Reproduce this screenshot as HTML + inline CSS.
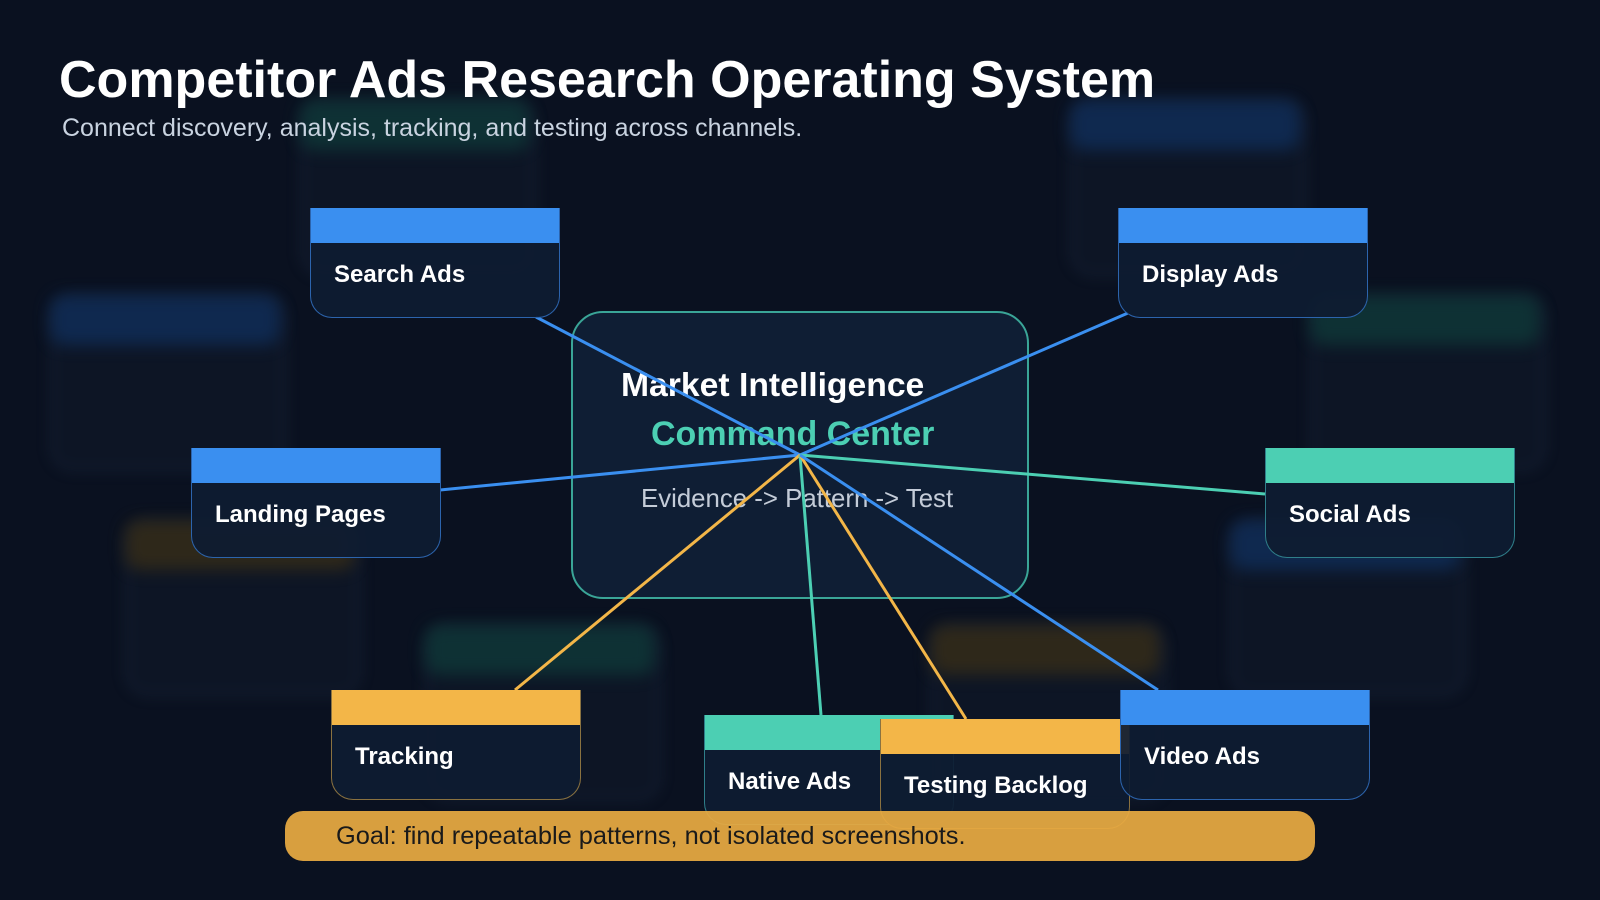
<!DOCTYPE html>
<html><head><meta charset="utf-8"><style>
html,body{margin:0;padding:0}
body{width:1600px;height:900px;background:#0a1120;position:relative;overflow:hidden;font-family:"Liberation Sans",sans-serif}
.g{position:absolute;filter:blur(8px);border-radius:14px;opacity:0.75}
.gc{position:absolute;filter:blur(6px);border-radius:24px;border:3px solid rgba(40,60,80,0.35);background:rgba(20,30,48,0.35)}
.n{position:absolute;width:250px;height:110px;box-sizing:border-box;border:1.5px solid #2c64ad;border-top:none;border-radius:0 0 22px 22px;background:rgba(14,28,50,0.93);overflow:hidden}
.n .h{height:35px;background:#3a8ff0}
.n .t{position:absolute;left:23px;top:53px;font-weight:bold;font-size:24px;color:#fff}
.n.o{border-color:#8a7240}.n.o .h{background:#f3b648}
.n.c .h{background:#4ccfb3}.n.c{border-color:#2f7f8a}
</style></head><body>
<div class="gc" style="left:300px;top:100px;width:230px;height:170px"></div>
<div class="gc" style="left:1070px;top:100px;width:230px;height:170px"></div>
<div class="gc" style="left:50px;top:295px;width:230px;height:170px"></div>
<div class="gc" style="left:1310px;top:295px;width:230px;height:170px"></div>
<div class="gc" style="left:125px;top:520px;width:230px;height:170px"></div>
<div class="gc" style="left:425px;top:625px;width:230px;height:170px"></div>
<div class="gc" style="left:930px;top:625px;width:230px;height:170px"></div>
<div class="gc" style="left:1230px;top:520px;width:230px;height:170px"></div>
<div class="g" style="left:300px;top:100px;width:230px;height:50px;background:#0f3b3a"></div>
<div class="g" style="left:1070px;top:100px;width:230px;height:50px;background:#10305e"></div>
<div class="g" style="left:50px;top:295px;width:230px;height:50px;background:#10305e"></div>
<div class="g" style="left:1310px;top:295px;width:230px;height:50px;background:#0f3b3a"></div>
<div class="g" style="left:125px;top:520px;width:230px;height:50px;background:#3a2f17"></div>
<div class="g" style="left:425px;top:625px;width:230px;height:50px;background:#0f3b3a"></div>
<div class="g" style="left:930px;top:625px;width:230px;height:50px;background:#3a2f17"></div>
<div class="g" style="left:1230px;top:520px;width:230px;height:50px;background:#10305e"></div>
<div style="position:absolute;left:59px;top:50px;font-size:52px;font-weight:bold;color:#fff">Competitor Ads Research Operating System</div>
<div style="position:absolute;left:62px;top:114px;font-size:25px;color:#c9d3e0">Connect discovery, analysis, tracking, and testing across channels.</div>
<div style="position:absolute;left:571px;top:311px;width:458px;height:288px;box-sizing:border-box;border:2px solid #3aa597;border-radius:32px;background:#0f1e34"></div>
<div style="position:absolute;left:621px;top:366px;font-size:33.7px;font-weight:bold;color:#fff">Market Intelligence</div>
<div style="position:absolute;left:651px;top:415px;font-size:34px;font-weight:bold;color:#4ccfb3">Command Center</div>
<div style="position:absolute;left:641px;top:485px;font-size:25.8px;color:#c4ccd8">Evidence -&gt; Pattern -&gt; Test</div>
<svg style="position:absolute;left:0;top:0" width="1600" height="900">
<g stroke-width="3" fill="none">
<line x1="800" y1="455" x2="536" y2="317" stroke="#3a8ff0"/>
<line x1="800" y1="455" x2="1128" y2="313" stroke="#3a8ff0"/>
<line x1="800" y1="455" x2="440" y2="490" stroke="#3a8ff0"/>
<line x1="800" y1="455" x2="1265" y2="494" stroke="#4ccfb3"/>
<line x1="800" y1="455" x2="515" y2="690" stroke="#f3b648"/>
<line x1="800" y1="455" x2="821" y2="715" stroke="#4ccfb3"/>
<line x1="800" y1="455" x2="966" y2="719" stroke="#f3b648"/>
<line x1="800" y1="455" x2="1158" y2="690" stroke="#3a8ff0"/>
</g></svg>
<div class="n" style="left:310px;top:208px"><div class="h"></div><div class="t">Search Ads</div></div>
<div class="n" style="left:1118px;top:208px"><div class="h"></div><div class="t">Display Ads</div></div>
<div class="n" style="left:191px;top:448px"><div class="h"></div><div class="t">Landing Pages</div></div>
<div class="n c" style="left:1265px;top:448px"><div class="h"></div><div class="t">Social Ads</div></div>
<div class="n o" style="left:331px;top:690px"><div class="h"></div><div class="t">Tracking</div></div>
<div class="n c" style="left:704px;top:715px"><div class="h"></div><div class="t">Native Ads</div></div>
<div class="n o" style="left:880px;top:719px"><div class="h"></div><div class="t">Testing Backlog</div></div>
<div class="n" style="left:1120px;top:690px"><div class="h"></div><div class="t">Video Ads</div></div>
<div style="position:absolute;left:285px;top:811px;width:1030px;height:50px;border-radius:18px;background:rgba(232,170,66,0.93)"></div>
<div style="position:absolute;left:336px;top:822px;font-size:25.4px;color:#1a1a1a">Goal: find repeatable patterns, not isolated screenshots.</div>
</body></html>
